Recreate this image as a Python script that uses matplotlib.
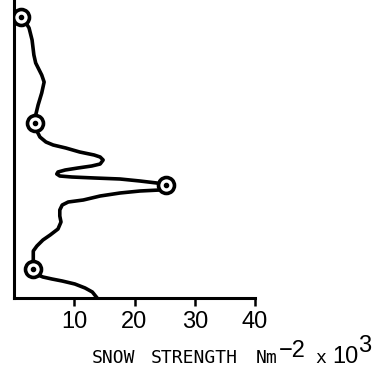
import matplotlib
matplotlib.use("Agg")
import matplotlib.pyplot as plt

# snow strength (N m^-2 x 10^3) traced down the profile, depth in cm from the top
strength = [1.2, 1.8, 2.5, 3.0, 3.3, 3.6, 4.6, 5.0, 4.6, 4.0, 3.6, 3.5,
            3.8, 4.3, 5.3, 6.5, 8.6, 10.9, 13.3, 14.3, 14.8, 14.3, 12.9, 10.6,
            8.5, 7.3, 7.1, 7.6, 9.6, 13.4, 17.6, 20.9, 23.7, 25.2, 24.2, 20.9,
            17.6, 14.3, 11.5, 9.0, 8.0, 7.6, 7.6, 7.8, 7.3, 6.0, 4.8, 3.8,
            3.2, 3.2, 3.2, 4.0, 4.8, 6.3, 8.0, 10.1, 11.8, 13.0, 13.4, 13.8]
depth = [8.5, 10.5, 14.0, 20.0, 27.5, 31.5, 37.5, 41.0, 46.5, 52.5, 57.5, 61.5,
         65.5, 68.5, 71.0, 72.5, 74.0, 76.0, 77.5, 78.5, 80.0, 82.0, 83.0, 84.0,
         85.0, 86.0, 87.0, 88.0, 88.5, 89.0, 89.5, 90.5, 91.5, 92.5, 95.0, 95.5,
         96.5, 98.0, 100.0, 101.0, 102.5, 105.0, 108.0, 111.0, 114.5, 117.5, 120.0, 123.0,
         125.5, 128.5, 134.5, 137.5, 138.5, 139.5, 140.5, 142.0, 144.0, 146.0, 147.5, 149.0]
# sample points marked with circles
sample_strength = [1.2, 3.5, 25.2, 3.2]
sample_depth = [8.5, 61.5, 92.5, 134.5]
xticks = [10, 20, 30, 40]

W, H = 377, 369
SANS = "Liberation Sans"
MONO = "DejaVu Sans Mono"

fig = plt.figure(figsize=(W / 100, H / 100), dpi=100)
ax = fig.add_axes([14 / W, (H - 298) / H, 241 / W, 298 / H])

ax.plot(strength, depth, color="black", lw=2.6,
        solid_joinstyle="round", solid_capstyle="round", zorder=2)
ax.plot(sample_strength, sample_depth, "o", ms=11.5, mfc="white", mec="black",
        mew=2.6, zorder=3)
ax.plot(sample_strength, sample_depth, "o", ms=3, color="black", zorder=4)

ax.set_xlim(0, 40)
ax.set_ylim(149, 0)
ax.spines["top"].set_visible(False)
ax.spines["right"].set_visible(False)
for s in ("left", "bottom"):
    ax.spines[s].set_linewidth(2.2)
ax.set_xticks(xticks)
ax.set_xticklabels([str(t) for t in xticks], family=SANS, fontsize=17)
ax.tick_params(axis="x", direction="out", length=6, width=1.8, pad=3)
ax.set_yticks([])


def px(x, y):
    return x / W, (H - y) / H


fig.text(*px(92, 363), "SNOW", family=MONO, fontsize=13, va="baseline")
fig.text(*px(151, 363), "STRENGTH", family=MONO, fontsize=13, va="baseline")
fig.text(*px(256, 363), "Nm", family=MONO, fontsize=13, va="baseline")
fig.text(*px(279, 357), "\u22122", family=SANS, fontsize=17, va="baseline")
fig.text(*px(315, 363), "x", family=MONO, fontsize=13, va="baseline")
fig.text(*px(332, 363), "10", family=SANS, fontsize=17, va="baseline")
fig.text(*px(358, 352), "3", family=SANS, fontsize=17, va="baseline")

fig.savefig("out.png", dpi=100)
